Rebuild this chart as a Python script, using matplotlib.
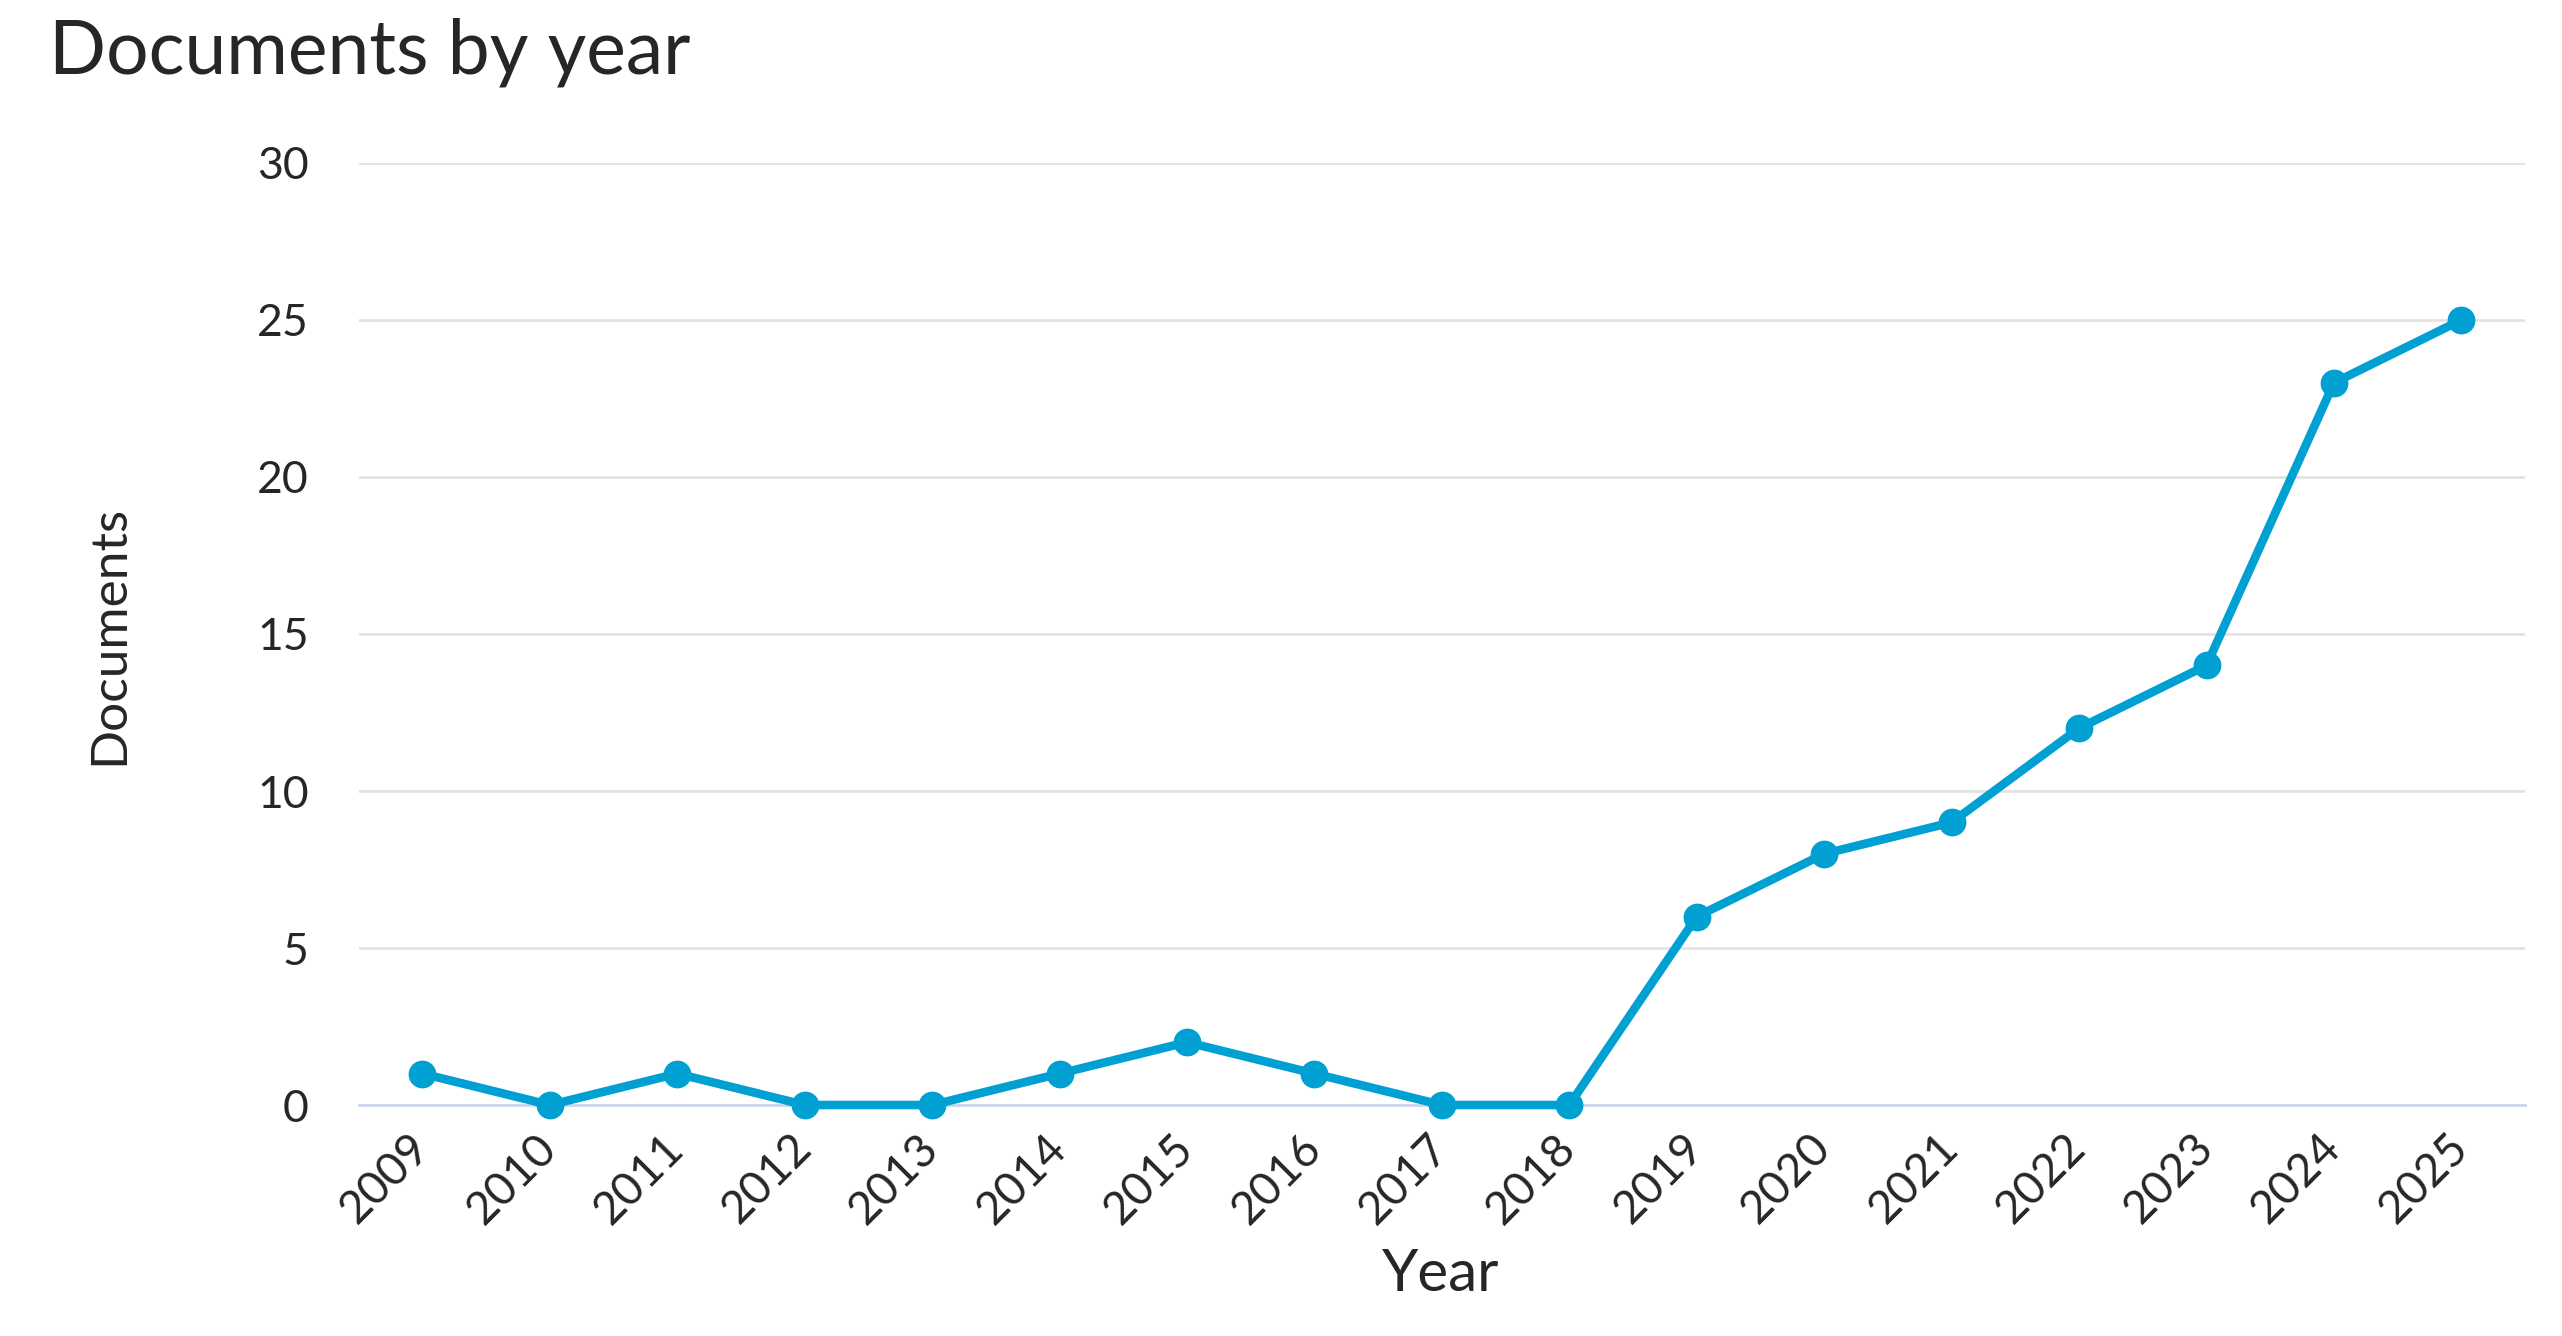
import matplotlib
matplotlib.use('Agg')
import matplotlib.pyplot as plt

years = ['2009', '2010', '2011', '2012', '2013', '2014', '2015', '2016', '2017',
         '2018', '2019', '2020', '2021', '2022', '2023', '2024', '2025']
documents = [1, 0, 1, 0, 0, 1, 2, 1, 0, 0, 6, 8, 9, 12, 14, 23, 25]
y_ticks = [0, 5, 10, 15, 20, 25, 30]

plt.rcParams['font.family'] = ['Lato', 'DejaVu Sans']
text_color = '#262626'
line_color = '#00a0d2'

fig = plt.figure(figsize=(25.62, 13.36), dpi=100)
ax = fig.add_axes([0.140, 0.1729, 0.8456, 0.7051])

x = list(range(len(years)))
ax.plot(x, documents, color=line_color, linewidth=6.2, marker='o', markersize=19,
        clip_on=False, zorder=3)

ax.set_xlim(-0.5, len(years) - 0.5)
ax.set_ylim(0, 30)
ax.set_yticks(y_ticks)
ax.set_yticklabels([str(v) for v in y_ticks], fontsize=32, color=text_color)
ax.set_xticks(x)
ax.set_xticklabels(years, fontsize=33, color=text_color, rotation=45,
                   ha='right', va='center', rotation_mode='anchor')
ax.tick_params(axis='y', length=0, pad=36)
ax.tick_params(axis='x', length=0, pad=26)

ax.grid(axis='y', color='#e3e3e3', linewidth=2)
ax.set_axisbelow(True)
for s in ['top', 'right', 'left']:
    ax.spines[s].set_visible(False)
ax.spines['bottom'].set_color('#ccd6eb')
ax.spines['bottom'].set_linewidth(2)

fig.text(0.019, 1 - 52 / 1336, 'Documents by year', fontsize=54, color=text_color,
         ha='left', va='center')
fig.text(0.0425, 0.525, 'Documents', fontsize=37, color=text_color, rotation=90,
         ha='center', va='center')
fig.text(0.5625, 0.0457, 'Year', fontsize=42, color=text_color, ha='center', va='center')

plt.savefig('out.png', dpi=100, facecolor='white')
plt.close()
